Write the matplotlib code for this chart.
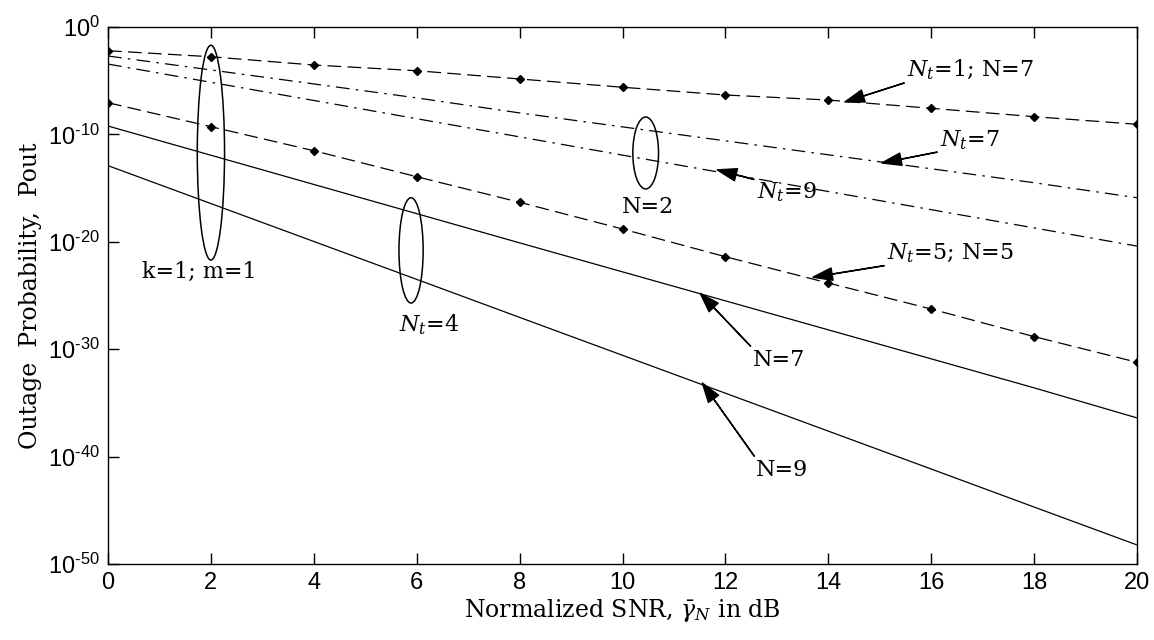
import numpy as np
import matplotlib
matplotlib.use('Agg')
import matplotlib.pyplot as plt
from matplotlib.patches import Ellipse

plt.rcParams['mathtext.fontset'] = 'custom'
plt.rcParams['mathtext.rm'] = 'Liberation Sans'
plt.rcParams['mathtext.it'] = 'DejaVu Serif:italic'
plt.rcParams['mathtext.bf'] = 'Liberation Sans:bold'

# datos (exponentes log10)
snr = np.arange(0, 21, 2)
nt1_n7 = [-2.21, -2.77, -3.54, -4.07, -4.84, -5.61, -6.33, -6.80, -7.57, -8.35, -9.06]
nt7 = [-2.70, -4.0, -5.3, -6.6, -8.0, -9.3, -10.6, -11.9, -13.2, -14.5, -15.9]
nt9 = [-3.45, -5.15, -6.84, -8.54, -10.23, -11.93, -13.62, -15.32, -17.01, -18.71, -20.4]
nt5_n5 = [-7.05, -9.28, -11.52, -13.94, -16.32, -18.81, -21.39, -23.84, -26.26, -28.83, -31.22]
n7 = [-9.22, -11.94, -14.66, -17.38, -20.1, -22.8, -25.5, -28.2, -30.9, -33.6, -36.4]
n9 = [-12.91, -16.44, -19.97, -23.5, -27.04, -30.57, -34.1, -37.63, -41.16, -44.7, -48.23]

yticks_exp = [0, -10, -20, -30, -40, -50]
xticks = list(range(0, 21, 2))

fig = plt.figure(figsize=(11.54, 6.4), dpi=100)
ax = fig.add_axes([0.0936, 0.1188, 0.8917, 0.839])

lw = 0.9
ax.semilogy(snr, 10.0**np.array(nt1_n7), color='k', lw=lw, dashes=(11, 5), marker='D', ms=4)
ax.semilogy(snr, 10.0**np.array(nt7), color='k', lw=lw, dashes=(11, 5, 2, 5))
ax.semilogy(snr, 10.0**np.array(nt9), color='k', lw=lw, dashes=(11, 5, 2, 5))
ax.semilogy(snr, 10.0**np.array(nt5_n5), color='k', lw=lw, dashes=(11, 5), marker='D', ms=4)
ax.semilogy(snr, 10.0**np.array(n7), color='k', lw=lw)
ax.semilogy(snr, 10.0**np.array(n9), color='k', lw=lw)

ax.set_xlim(0, 20)
ax.set_ylim(1e-50, 1e0)
ax.set_xticks(xticks)
ax.set_xticklabels([str(t) for t in xticks], fontfamily='Liberation Sans', fontsize=17)
ax.set_yticks([10.0**e for e in yticks_exp])
ax.set_yticklabels([r'$10^{\text{%d}}$' % e for e in yticks_exp], fontsize=17)
ax.minorticks_off()
ax.tick_params(direction='in', length=8, top=True, right=True, width=1, pad=6)
for s in ax.spines.values():
    s.set_linewidth(1)

ax.set_xlabel(r'Normalized SNR, $\bar{\gamma}_N$ in dB', fontfamily='DejaVu Serif', fontsize=17, labelpad=2)
ax.set_ylabel('Outage  Probability,  Pout', fontfamily='DejaVu Serif', fontsize=17, labelpad=4)

# elipses en coordenadas (x, log10 y) -> eje auxiliar lineal
aux = ax.twinx()
aux.set_ylim(-50, 0)
aux.axis('off')
for (cx, cy, w, h) in [(2.0, -11.7, 0.53, 20.0), (5.89, -20.8, 0.47, 9.8), (10.45, -11.73, 0.5, 6.7)]:
    aux.add_patch(Ellipse((cx, cy), w, h, fill=False, ec='k', lw=1.1))

tf = dict(fontfamily='DejaVu Serif', fontsize=16)
aux.text(1.77, -22.8, 'k=1; m=1', ha='center', va='center', **tf)
aux.text(6.24, -27.7, '$N_t$=4', ha='center', va='center', **tf)
aux.text(10.5, -16.8, 'N=2', ha='center', va='center', **tf)

ap = dict(facecolor='k', edgecolor='k', width=0.2, headwidth=9, headlength=14, shrink=0)
aux.annotate('$N_t$=1; N=7', xy=(14.32, -6.98), xytext=(15.53, -4.0), ha='left', va='center', arrowprops=ap, **tf)
aux.annotate('$N_t$=7', xy=(15.04, -12.66), xytext=(16.17, -10.5), ha='left', va='center', arrowprops=ap, **tf)
aux.annotate('$N_t$=9', xy=(11.84, -13.3), xytext=(12.61, -15.36), ha='left', va='center', arrowprops=ap, **tf)
aux.annotate('$N_t$=5; N=5', xy=(13.70, -23.3), xytext=(15.14, -21.1), ha='left', va='center', arrowprops=ap, **tf)
aux.annotate('N=7', xy=(11.51, -24.8), xytext=(12.54, -31.0), ha='left', va='center', arrowprops=ap, **tf)
aux.annotate('N=9', xy=(11.55, -33.15), xytext=(12.6, -41.25), ha='left', va='center', arrowprops=ap, **tf)

fig.savefig('out.png', dpi=100)
